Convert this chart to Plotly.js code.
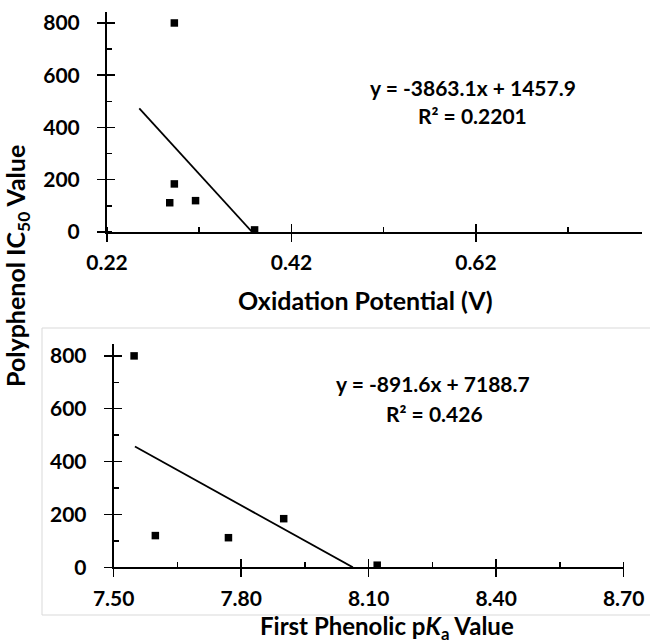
<!DOCTYPE html>
<html>
<head>
<meta charset="utf-8">
<script src="https://cdn.plot.ly/plotly-3.0.1.min.js"></script>
<style>html,body{margin:0;padding:0;background:#fff;}#chart{width:650px;height:644px;}</style>
</head>
<body>
<div id="chart"></div>
<script>
// IC50 values (shared by both panels)
const ic50 = [800, 184, 112, 120, 8];
// Panel 1: oxidation potential (V)
const oxPotential = [0.293, 0.293, 0.288, 0.316, 0.380];
// Panel 2: first phenolic pKa (same compounds, same order)
const pKa = [7.548, 7.900, 7.770, 7.598, 8.120];

// Trendlines (Excel linear fits shown on the chart)
const fit1 = {slope: -3863.1, intercept: 1457.9, r2: "0.2201", xStart: 0.255};
const fit2 = {slope: -891.6, intercept: 7188.7, r2: "0.426", xStart: 7.55};

// Titles
const xTitle1 = 'Oxidation Potential (V)';
const xTitle2 = 'First Phenolic p<i>K</i><sub>a</sub> Value';
const yTitle = 'Polyphenol IC<sub>50</sub> Value';

function lineXY(f){
  const xEnd = -f.intercept / f.slope;
  return {x: [f.xStart, xEnd], y: [f.slope*f.xStart + f.intercept, 0]};
}
const t1 = lineXY(fit1), t2 = lineXY(fit2);

const FONT = "Lato, 'Liberation Sans', sans-serif";
const tickFont = {family: FONT, size: 21, color: '#000', weight: 'bold'};
const titleFont = {family: FONT, size: 25, color: '#000', weight: 'bold'};
const eqFont = {family: FONT, size: 21, color: '#000', weight: 'bold'};

const traces = [
  {x: t1.x, y: t1.y, mode: 'lines', line: {color: '#000', width: 1.8}, xaxis: 'x', yaxis: 'y', hoverinfo: 'skip', showlegend: false},
  {x: oxPotential, y: ic50, mode: 'markers', marker: {symbol: 'square', size: 7.5, color: '#000'}, xaxis: 'x', yaxis: 'y', cliponaxis: false, showlegend: false},
  {x: t2.x, y: t2.y, mode: 'lines', line: {color: '#000', width: 1.8}, xaxis: 'x2', yaxis: 'y2', hoverinfo: 'skip', showlegend: false},
  {x: pKa, y: ic50, mode: 'markers', marker: {symbol: 'square', size: 7.5, color: '#000'}, xaxis: 'x2', yaxis: 'y2', cliponaxis: false, showlegend: false},
  // empty helpers so the overlay tick axes are rendered
  {x: [], y: [], mode: 'markers', xaxis: 'x3', yaxis: 'y3', showlegend: false, hoverinfo: 'skip'},
  {x: [], y: [], mode: 'markers', xaxis: 'x4', yaxis: 'y4', showlegend: false, hoverinfo: 'skip'}
];

const W = 650, H = 644;
const px = v => v / W, py = v => 1 - v / H;

const axBase = {showgrid: false, zeroline: false, showline: true, linecolor: '#000', linewidth: 2,
  ticks: 'outside', ticklen: 8, tickwidth: 1.5, tickcolor: '#000', tickfont: tickFont, fixedrange: true};
const minorTick = {ticks: 'inside', ticklen: 5, tickwidth: 1.5, tickcolor: '#000'};
const overlayBase = {ticks: 'inside', ticklen: 8, tickwidth: 1.5, tickcolor: '#000', showticklabels: false,
  showgrid: false, zeroline: false, showline: false, fixedrange: true};

const layout = {
  width: W, height: H,
  margin: {l: 0, r: 0, t: 0, b: 0},
  paper_bgcolor: '#fff', plot_bgcolor: 'rgba(0,0,0,0)',
  showlegend: false,
  xaxis: Object.assign({}, axBase, {
    domain: [px(107), px(642)], anchor: 'y', range: [0.22, 0.8],
    tick0: 0.22, dtick: 0.2, tickformat: '.2f', ticklabelstandoff: 3,
    minor: Object.assign({dtick: 0.1, tick0: 0.22}, minorTick)
  }),
  yaxis: Object.assign({}, axBase, {
    domain: [py(232), py(12)], anchor: 'x', range: [0, 842],
    dtick: 200, ticklabelstandoff: 13,
    minor: Object.assign({dtick: 100}, minorTick)
  }),
  xaxis2: Object.assign({}, axBase, {
    domain: [px(113.7), px(623.7)], anchor: 'y2', range: [7.5, 8.7],
    tick0: 7.5, dtick: 0.3, tickformat: '.2f', ticklabelstandoff: 3,
    minor: Object.assign({dtick: 0.15, tick0: 7.5}, minorTick)
  }),
  yaxis2: Object.assign({}, axBase, {
    domain: [py(567.3), py(344)], anchor: 'x2', range: [0, 845],
    dtick: 200, ticklabelstandoff: 13,
    minor: Object.assign({dtick: 100}, minorTick)
  }),
  // overlay axes draw the inner half of the crossing major ticks
  xaxis3: Object.assign({overlaying: 'x', anchor: 'y3', range: [0.22, 0.8], tick0: 0.22, dtick: 0.2}, overlayBase),
  yaxis3: Object.assign({overlaying: 'y', anchor: 'x3', range: [0, 842], dtick: 200}, overlayBase),
  xaxis4: Object.assign({overlaying: 'x2', anchor: 'y4', range: [7.5, 8.7], tick0: 7.5, dtick: 0.3}, overlayBase),
  yaxis4: Object.assign({overlaying: 'y2', anchor: 'x4', range: [0, 845], dtick: 200}, overlayBase),
  shapes: [
    {type: 'rect', xref: 'paper', yref: 'paper', x0: px(42), x1: px(660), y0: py(615), y1: py(328),
     line: {color: '#d9d9d9', width: 1}, fillcolor: 'rgba(0,0,0,0)', layer: 'below'}
  ],
  annotations: [
    {xref: 'paper', yref: 'paper', x: px(17), y: py(266), text: yTitle, textangle: -90,
     showarrow: false, font: titleFont, xanchor: 'center', yanchor: 'middle'},
    {xref: 'paper', yref: 'paper', x: px(366), y: py(300), text: xTitle1,
     showarrow: false, font: titleFont, xanchor: 'center', yanchor: 'middle'},
    {xref: 'paper', yref: 'paper', x: px(387), y: py(627), text: xTitle2,
     showarrow: false, font: Object.assign({}, titleFont, {size: 24}), xanchor: 'center', yanchor: 'middle'},
    {xref: 'paper', yref: 'paper', x: px(473), y: py(87), text: 'y = ' + fit1.slope + 'x + ' + fit1.intercept,
     showarrow: false, font: eqFont, xanchor: 'center', yanchor: 'middle'},
    {xref: 'paper', yref: 'paper', x: px(472), y: py(115), text: 'R² = ' + fit1.r2,
     showarrow: false, font: eqFont, xanchor: 'center', yanchor: 'middle'},
    {xref: 'paper', yref: 'paper', x: px(433), y: py(383), text: 'y = ' + fit2.slope + 'x + ' + fit2.intercept,
     showarrow: false, font: eqFont, xanchor: 'center', yanchor: 'middle'},
    {xref: 'paper', yref: 'paper', x: px(434), y: py(413), text: 'R² = ' + fit2.r2,
     showarrow: false, font: eqFont, xanchor: 'center', yanchor: 'middle'}
  ]
};

Plotly.newPlot('chart', traces, layout, {staticPlot: true, displayModeBar: false});
</script>
</body>
</html>
